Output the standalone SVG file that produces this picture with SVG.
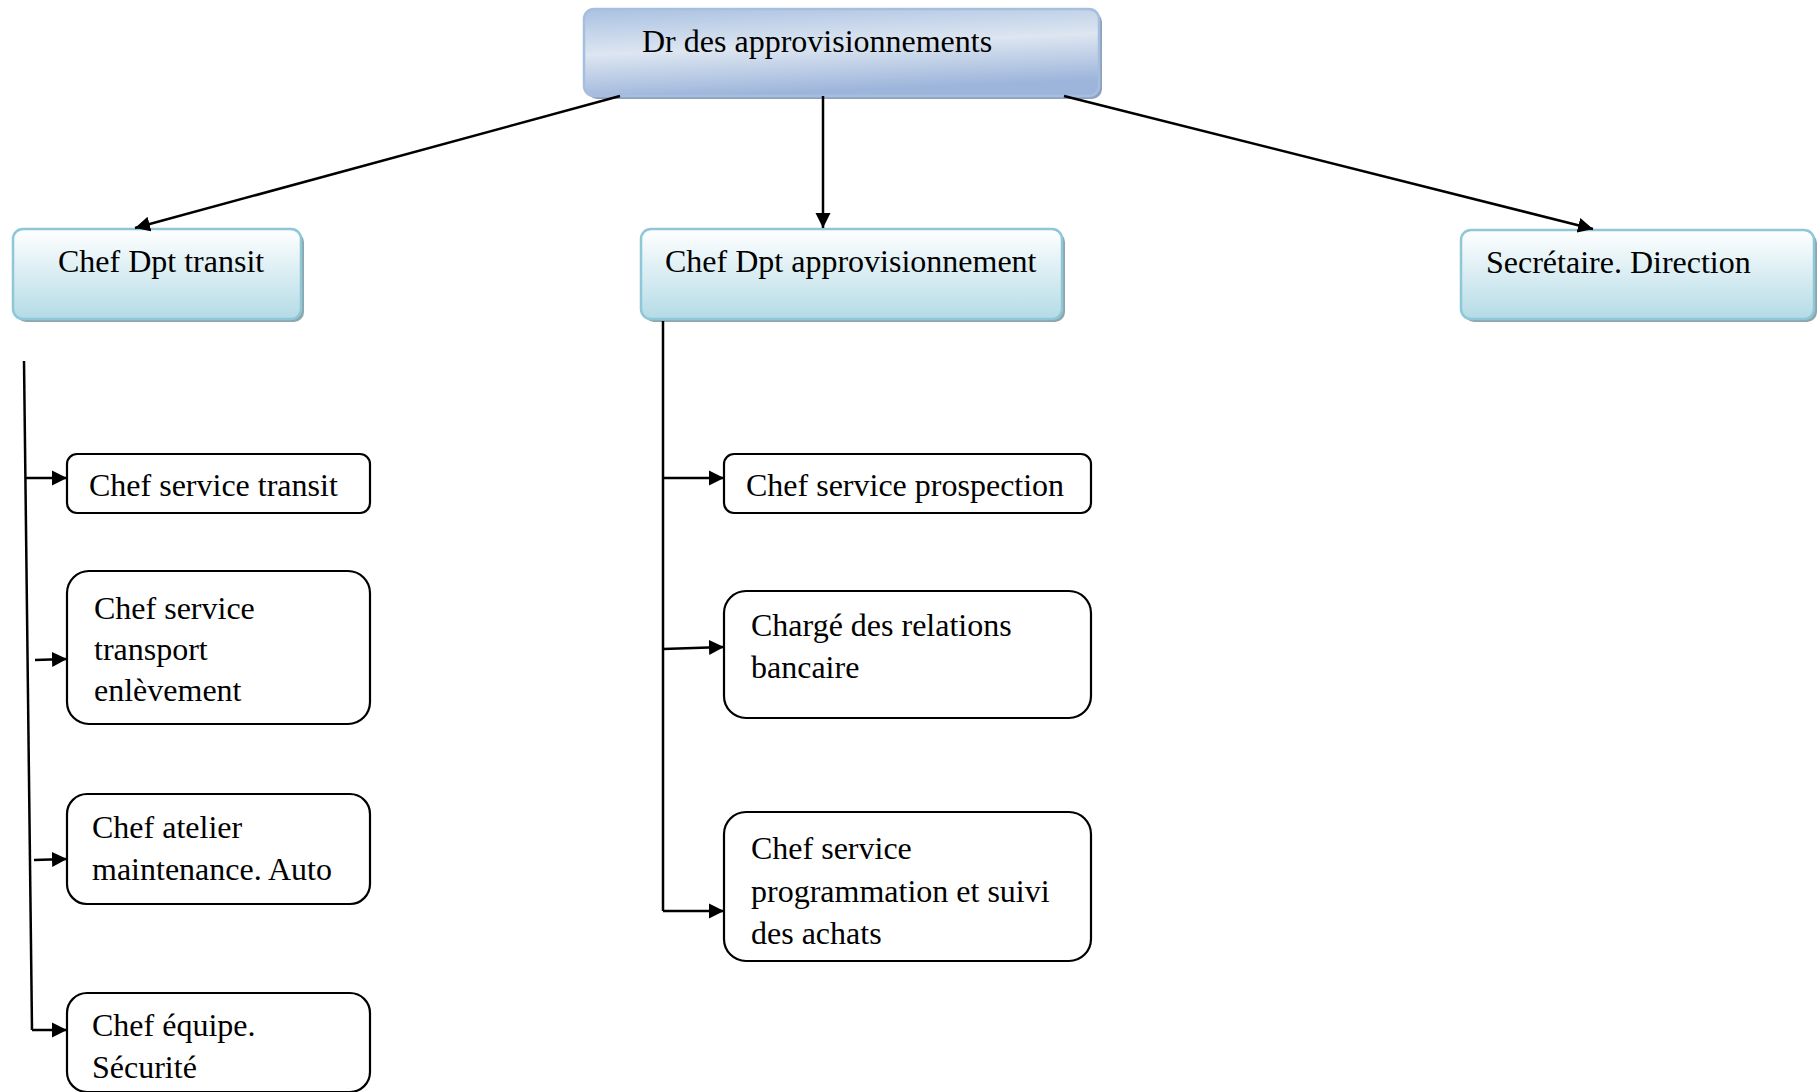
<svg xmlns="http://www.w3.org/2000/svg" width="1820" height="1092" viewBox="0 0 1820 1092">
<style>
text{font-family:"Liberation Serif","Times New Roman",serif;font-size:32px;fill:#000}
.sub{fill:#fff;stroke:#000;stroke-width:2.2}
.lvl2{fill:url(#g2);stroke:#8ec8d8;stroke-width:2.5}
.shadow{fill:#8ea6ad}
.top{fill:url(#g1);stroke:#a7bede;stroke-width:2.5}
.topshadow{fill:#8da2bf}
.conn line{stroke:#000;stroke-width:2.5;fill:none;marker-end:url(#arr)}
.conn .plain{marker-end:none}
</style>
<defs>
<linearGradient id="g1" x1="0" y1="0" x2="0.25" y2="1">
<stop offset="0" stop-color="#aac1e2"/>
<stop offset="0.5" stop-color="#dde6f1"/>
<stop offset="1" stop-color="#9db5db"/>
</linearGradient>
<linearGradient id="g2" x1="0" y1="0" x2="0" y2="1">
<stop offset="0" stop-color="#ffffff"/>
<stop offset="1" stop-color="#b4dbe6"/>
</linearGradient>
<marker id="arr" viewBox="0 0 10 10" refX="10" refY="5" markerWidth="6" markerHeight="6.2" markerUnits="strokeWidth" orient="auto">
<path d="M0,0 L10,5 L0,10 z" fill="#000"/>
</marker>
</defs>

<g id="n-dr">
<rect class="topshadow" x="587" y="12" width="515" height="87" rx="10"/>
<rect class="top" x="584" y="9" width="515" height="87" rx="10"/>
<text x="642" y="52">Dr des approvisionnements</text>
</g>

<g id="n-transit">
<rect class="shadow" x="16" y="232" width="288" height="90" rx="10"/>
<rect class="lvl2" x="13" y="229" width="288" height="90" rx="10"/>
<text x="58" y="272">Chef Dpt transit</text>
</g>

<g id="n-appro">
<rect class="shadow" x="644" y="232" width="421" height="90" rx="10"/>
<rect class="lvl2" x="641" y="229" width="421" height="90" rx="10"/>
<text x="665" y="272">Chef Dpt approvisionnement</text>
</g>

<g id="n-secretaire">
<rect class="shadow" x="1464" y="233" width="353" height="89" rx="10"/>
<rect class="lvl2" x="1461" y="230" width="353" height="89" rx="10"/>
<text x="1486" y="273">Secrétaire. Direction</text>
</g>

<g id="n-service-transit">
<rect class="sub" x="67" y="454" width="303" height="59" rx="10"/>
<text x="89" y="496">Chef service transit</text>
</g>

<g id="n-transport">
<rect class="sub" x="67" y="571" width="303" height="153" rx="22"/>
<text x="94" y="619">Chef service</text>
<text x="94" y="660">transport</text>
<text x="94" y="701">enlèvement</text>
</g>

<g id="n-atelier">
<rect class="sub" x="67" y="794" width="303" height="110" rx="20"/>
<text x="92" y="838">Chef atelier</text>
<text x="92" y="880">maintenance. Auto</text>
</g>

<g id="n-securite">
<rect class="sub" x="67" y="993" width="303" height="99" rx="20"/>
<text x="92" y="1036">Chef équipe.</text>
<text x="92" y="1078">Sécurité</text>
</g>

<g id="n-prospection">
<rect class="sub" x="724" y="454" width="367" height="59" rx="10"/>
<text x="746" y="496">Chef service prospection</text>
</g>

<g id="n-bancaire">
<rect class="sub" x="724" y="591" width="367" height="127" rx="22"/>
<text x="751" y="636">Chargé des relations</text>
<text x="751" y="678">bancaire</text>
</g>

<g id="n-achats">
<rect class="sub" x="724" y="812" width="367" height="149" rx="22"/>
<text x="751" y="859">Chef service</text>
<text x="751" y="902">programmation et suivi</text>
<text x="751" y="944">des achats</text>
</g>

<g id="connectors" class="conn">
<line x1="620" y1="96" x2="135" y2="228"/>
<line x1="823" y1="96" x2="823" y2="228"/>
<line x1="1064" y1="96" x2="1593" y2="229"/>

<line class="plain" x1="24" y1="361" x2="32" y2="1030"/>
<line x1="26" y1="478" x2="67" y2="478"/>
<line x1="35" y1="660" x2="67" y2="659"/>
<line x1="34" y1="860" x2="67" y2="859"/>
<line x1="32" y1="1030" x2="67" y2="1030"/>

<line class="plain" x1="663" y1="321" x2="663" y2="911"/>
<line x1="663" y1="478" x2="724" y2="478"/>
<line x1="663" y1="649" x2="724" y2="647"/>
<line x1="663" y1="911" x2="724" y2="911"/>
</g>
</svg>
